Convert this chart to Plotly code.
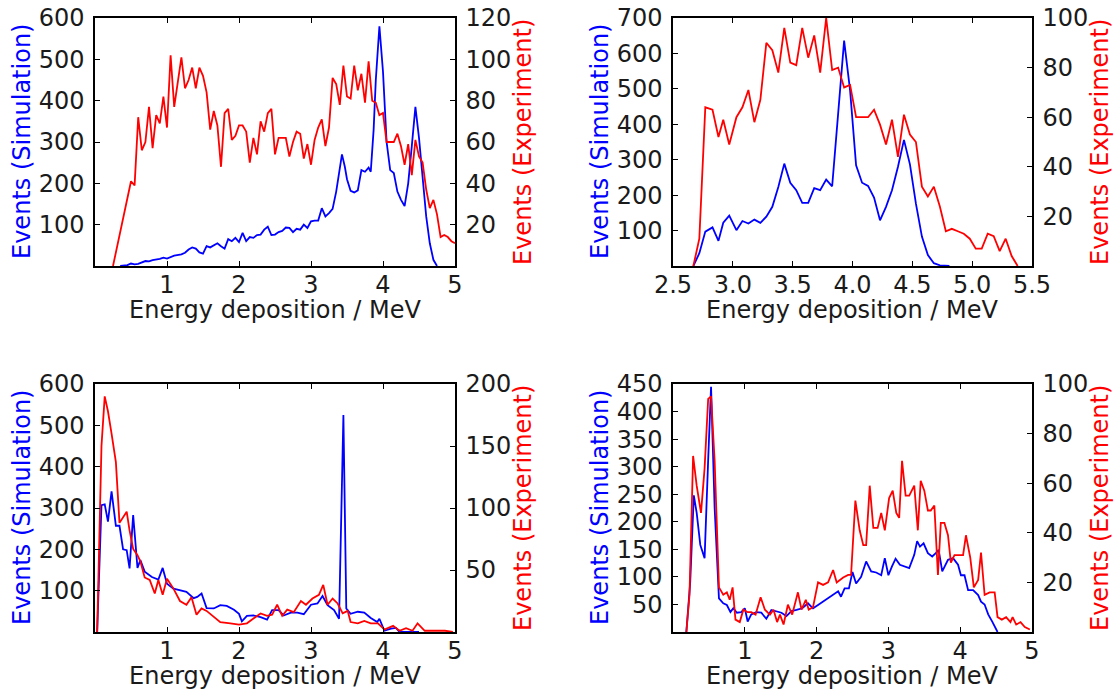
import plotly.graph_objects as go

# ---------------- data ----------------
# Panel 1 (top-left)
p1_sim_e = [0.35,0.45,0.5,0.55,0.6,0.7,0.75,0.8,0.9,0.95,1.0,1.05,1.1,1.2,1.25,1.3,1.35,1.4,1.45,1.5,1.55,1.6,1.65,1.7,1.75,1.8,1.85,1.9,1.95,2.0,2.05,2.1,2.15,2.2,2.25,2.3,2.35,2.4,2.45,2.5,2.55,2.6,2.65,2.7,2.75,2.8,2.85,2.9,2.95,3.0,3.05,3.1,3.15,3.2,3.25,3.3,3.35,3.4,3.43,3.47,3.5,3.55,3.6,3.65,3.7,3.75,3.8,3.83,3.87,3.9,3.95,4.0,4.05,4.1,4.15,4.2,4.25,4.3,4.35,4.4,4.45,4.5,4.55,4.6,4.65,4.7,4.75]
p1_sim_n = [0,2,6,4,5,12,11,14,17,20,18,22,25,28,32,40,45,42,33,30,48,45,50,55,48,42,65,60,68,58,80,60,70,68,75,76,88,95,75,76,82,85,93,92,82,90,88,100,92,108,110,110,140,120,128,138,180,240,270,240,210,182,178,183,232,228,238,228,330,450,580,470,300,232,225,180,160,145,200,290,385,310,220,120,55,15,0]
p1_exp_e = [0.25,0.5,0.55,0.6,0.65,0.7,0.75,0.8,0.85,0.9,0.95,1.0,1.05,1.1,1.15,1.2,1.25,1.3,1.35,1.4,1.45,1.5,1.55,1.6,1.65,1.7,1.75,1.8,1.85,1.9,1.95,2.0,2.05,2.1,2.15,2.2,2.25,2.3,2.35,2.4,2.45,2.5,2.55,2.6,2.65,2.7,2.75,2.8,2.85,2.9,2.95,3.0,3.05,3.1,3.15,3.2,3.25,3.3,3.35,3.4,3.45,3.5,3.55,3.6,3.65,3.7,3.75,3.8,3.85,3.9,3.95,4.0,4.05,4.1,4.15,4.2,4.25,4.3,4.35,4.4,4.45,4.5,4.55,4.6,4.65,4.7,4.75,4.8,4.85,4.9,4.95,5.0]
p1_exp_n = [0,41,39,72,56,60,77,57,73,69,82,67,102,77,89,101,86,90,96,86,96,92,84,66,75,68,48,74,76,61,63,68,68,65,50,62,54,70,65,74,76,54,62,62,62,53,60,65,64,52,59,49,61,67,71,58,67,91,88,78,97,82,81,97,85,93,79,99,80,79,73,74,60,60,60,64,58,49,59,44,61,53,50,37,28,32,25,14,15,14,12,11]

# Panel 2 (top-right)
p2_sim_e = [2.67,2.72,2.77,2.83,2.88,2.92,2.97,3.03,3.08,3.13,3.18,3.23,3.28,3.33,3.38,3.43,3.48,3.53,3.58,3.63,3.68,3.73,3.78,3.83,3.88,3.93,3.98,4.03,4.08,4.13,4.18,4.23,4.28,4.33,4.38,4.43,4.48,4.53,4.58,4.63,4.68,4.73,4.81]
p2_sim_n = [0,36,97,109,71,122,142,101,127,120,131,122,139,167,223,289,235,214,178,178,220,214,244,225,430,636,495,284,235,226,193,129,167,214,280,356,287,176,83,31,8,2,0]
p2_exp_e = [2.67,2.72,2.77,2.83,2.88,2.92,2.97,3.03,3.08,3.13,3.18,3.23,3.28,3.33,3.38,3.43,3.48,3.53,3.58,3.63,3.68,3.73,3.78,3.83,3.88,3.93,3.98,4.03,4.08,4.13,4.18,4.23,4.28,4.33,4.38,4.43,4.48,4.53,4.58,4.63,4.68,4.73,4.78,4.83,4.88,4.93,4.98,5.03,5.08,5.13,5.18,5.23,5.28,5.33,5.38]
p2_exp_n = [0,11,64,63,52,59,49,60,64,71,58,67,90,87,78,96,82,81,96,84,93,78,100,79,80,72,73,60,60,60,63,57,49,59,44,61,53,50,32,28,32,24,14,15,14,13,11,7,7,13,12,6,11,4,0]

# Panel 3 (bottom-left)
p3_sim_e = [0.03,0.09,0.135,0.18,0.23,0.29,0.34,0.39,0.44,0.48,0.53,0.59,0.63,0.69,0.79,0.88,0.94,1.0,1.09,1.18,1.27,1.37,1.42,1.48,1.55,1.65,1.74,1.83,1.93,2.0,2.04,2.11,2.2,2.3,2.39,2.46,2.55,2.62,2.72,2.81,2.9,3.0,3.09,3.16,3.23,3.32,3.39,3.45,3.49,3.55,3.65,3.74,3.83,3.92,3.95,4.02,4.11,4.18,4.23,4.5]
p3_sim_n = [0,307,309,267,340,257,257,200,198,154,283,155,174,146,133,127,155,117,105,101,97,82,85,93,58,57,65,63,54,44,26,39,40,36,30,53,53,40,47,47,43,66,69,87,65,53,32,525,57,44,49,47,34,24,32,3,8,10,0,0]
p3_exp_e = [0.03,0.09,0.135,0.18,0.23,0.29,0.34,0.39,0.44,0.48,0.53,0.59,0.63,0.69,0.76,0.83,0.88,0.94,1.0,1.09,1.18,1.27,1.34,1.41,1.48,1.55,1.65,1.74,1.88,2.0,2.11,2.2,2.3,2.39,2.46,2.53,2.6,2.67,2.76,2.86,2.93,3.02,3.11,3.17,3.23,3.3,3.37,3.44,3.51,3.55,3.65,3.74,3.83,3.93,4.02,4.14,4.23,4.32,4.41,4.48,4.58,4.67,4.76,4.86,4.97]
p3_exp_n = [0,150,190,178,160,137,88,92,97,82,67,62,57,44,42,31,42,30,43,35,25,22,28,14,19,17,12,8,7,6,7,11,15,13,14,22,13,18,16,25,22,27,30,38,22,27,23,15,17,8,7,9,7,7,2,5,1,3,1,7,1,1,1,1,0]

# Panel 4 (bottom-right)
p4_sim_e = [0.186,0.24,0.29,0.33,0.38,0.44,0.49,0.53,0.58,0.64,0.7,0.75,0.8,0.84,0.89,0.95,1.0,1.04,1.09,1.16,1.23,1.3,1.37,1.43,1.51,1.58,1.65,1.72,1.8,1.88,1.95,2.02,2.09,2.16,2.23,2.3,2.34,2.39,2.45,2.5,2.55,2.62,2.69,2.76,2.83,2.9,2.95,3.0,3.05,3.1,3.16,3.24,3.29,3.36,3.4,3.44,3.49,3.55,3.61,3.66,3.7,3.75,3.83,3.9,3.97,4.01,4.06,4.11,4.18,4.25,4.29,4.34,4.39,4.45,4.52]
p4_sim_n = [0,91,248,216,158,134,313,445,225,61,52,49,36,43,35,36,43,19,32,36,35,24,40,38,35,29,38,40,43,52,43,49,55,61,68,74,64,79,79,109,88,100,128,110,108,103,134,103,119,133,122,119,116,140,165,155,161,143,137,143,149,110,131,134,122,103,103,76,76,67,55,50,32,18,0]
p4_exp_e = [0.186,0.23,0.28,0.33,0.39,0.44,0.49,0.53,0.58,0.64,0.7,0.75,0.79,0.83,0.87,0.93,0.98,1.04,1.09,1.15,1.22,1.28,1.35,1.4,1.45,1.49,1.54,1.6,1.66,1.74,1.79,1.85,1.89,1.95,2.02,2.09,2.16,2.23,2.28,2.37,2.44,2.48,2.54,2.6,2.65,2.69,2.74,2.79,2.85,2.9,2.95,3.01,3.06,3.11,3.15,3.19,3.24,3.29,3.36,3.41,3.45,3.5,3.55,3.59,3.64,3.69,3.73,3.78,3.83,3.87,3.92,3.97,4.04,4.08,4.14,4.19,4.25,4.29,4.34,4.41,4.48,4.52,4.58,4.64,4.7,4.73,4.78,4.84,4.9,4.97]
p4_exp_n = [0,15,71,59,48,66,94,95,69,18,15,16,13,18,5,4,9,8,8,7,14,9,7,9,4,7,3,11,7,16,9,13,9,10,20,19,20,25,20,22,23,23,53,41,35,35,59,42,42,48,41,54,57,48,46,69,55,55,59,41,61,57,49,49,51,23,44,44,39,28,31,31,31,39,30,18,21,32,15,16,16,6,5,6,4,6,3,4,2,1]

# axis settings per panel
x_ranges = [[0, 5], [2.5, 5.5], [0, 5], [0, 5]]
x_ticks = [[1, 2, 3, 4, 5], [2.5, 3.0, 3.5, 4.0, 4.5, 5.0, 5.5], [1, 2, 3, 4, 5], [1, 2, 3, 4, 5]]
x_tick_text = [["1", "2", "3", "4", "5"], ["2.5", "3.0", "3.5", "4.0", "4.5", "5.0", "5.5"],
               ["1", "2", "3", "4", "5"], ["1", "2", "3", "4", "5"]]
sim_ranges = [[0, 600], [0, 700], [0, 600], [0, 450]]
sim_ticks = [[100, 200, 300, 400, 500, 600], [100, 200, 300, 400, 500, 600, 700],
             [100, 200, 300, 400, 500, 600], [50, 100, 150, 200, 250, 300, 350, 400, 450]]
exp_ranges = [[0, 120], [0, 100], [0, 200], [0, 100]]
exp_ticks = [[20, 40, 60, 80, 100, 120], [20, 40, 60, 80, 100], [50, 100, 150, 200], [20, 40, 60, 80, 100]]

x_title = "Energy deposition / MeV"
sim_title = "Events (Simulation)"
exp_title = "Events (Experiment)"

# ---------------- figure ----------------
W, H = 1117, 695
col_px = [(95, 455), (673, 1032)]
row_px = [(18, 266), (384, 632)]

panels = [
    (p1_sim_e, p1_sim_n, p1_exp_e, p1_exp_n),
    (p2_sim_e, p2_sim_n, p2_exp_e, p2_exp_n),
    (p3_sim_e, p3_sim_n, p3_exp_e, p3_exp_n),
    (p4_sim_e, p4_sim_n, p4_exp_e, p4_exp_n),
]

FONT = "DejaVu Sans"
FS = 24
BLUE = "#0000ff"
RED = "#ff0000"
TXT = "#1a1a1a"

fig = go.Figure()
layout = dict(
    width=W, height=H,
    margin=dict(l=0, r=0, t=0, b=0),
    paper_bgcolor="white", plot_bgcolor="white",
    showlegend=False, template="none",
    font=dict(family=FONT, size=FS, color=TXT),
    annotations=[],
)

for i, (se, sn, ee, en) in enumerate(panels):
    r, c = divmod(i, 2)
    x0, x1 = col_px[c]
    y0, y1 = row_px[r]
    xd = [x0 / W, x1 / W]
    yd = [1 - y1 / H, 1 - y0 / H]
    xn = "x" if i == 0 else f"x{i+1}"
    ya = 2 * i + 1
    yb = 2 * i + 2
    yan = "y" if ya == 1 else f"y{ya}"
    ybn = f"y{yb}"
    xkey = "xaxis" if i == 0 else f"xaxis{i+1}"
    yakey = "yaxis" if ya == 1 else f"yaxis{ya}"
    ybkey = f"yaxis{yb}"

    fig.add_trace(go.Scatter(x=se, y=sn, mode="lines", line=dict(color=BLUE, width=1.8),
                             xaxis=xn, yaxis=yan, hoverinfo="skip"))
    fig.add_trace(go.Scatter(x=ee, y=en, mode="lines", line=dict(color=RED, width=1.8),
                             xaxis=xn, yaxis=ybn, hoverinfo="skip"))

    layout[xkey] = dict(domain=xd, range=x_ranges[i], anchor=yan, showgrid=False, zeroline=False,
                        showline=True, linecolor="black", linewidth=1.5, mirror="ticks",
                        ticks="inside", ticklen=5, tickwidth=1, tickcolor="black",
                        tickvals=x_ticks[i], ticktext=x_tick_text[i],
                        tickfont=dict(family=FONT, size=FS, color=TXT),
                        ticklabelstandoff=-4, automargin=False, fixedrange=True)
    layout[yakey] = dict(domain=yd, range=sim_ranges[i], anchor=xn, side="left", showgrid=False,
                         zeroline=False, showline=True, linecolor="black", linewidth=1.5,
                         ticks="inside", ticklen=5, tickwidth=1, tickcolor="black",
                         tickvals=sim_ticks[i], ticktext=[str(v) for v in sim_ticks[i]],
                         tickfont=dict(family=FONT, size=FS, color=TXT),
                         ticklabelstandoff=4, automargin=False, fixedrange=True)
    layout[ybkey] = dict(domain=yd, range=exp_ranges[i], anchor=xn, overlaying=yan, side="right",
                         showgrid=False, zeroline=False, showline=True, linecolor="black", linewidth=1.5,
                         ticks="inside", ticklen=5, tickwidth=1, tickcolor="black",
                         tickvals=exp_ticks[i], ticktext=[str(v) for v in exp_ticks[i]],
                         tickfont=dict(family=FONT, size=FS, color=TXT),
                         ticklabelstandoff=4, automargin=False, fixedrange=True)

    cx = (x0 + x1) / 2 / W
    cy = 1 - (y0 + y1) / 2 / H
    xt_y = 1 - (y1 + 44) / H
    layout["annotations"].append(dict(text=x_title, x=cx, y=xt_y, xref="paper", yref="paper",
                                      showarrow=False, xanchor="center", yanchor="middle",
                                      font=dict(family=FONT, size=FS, color=TXT)))
    layout["annotations"].append(dict(text=sim_title, x=(x0 - 73) / W, y=cy, xref="paper", yref="paper",
                                      showarrow=False, textangle=-90, xanchor="center", yanchor="middle",
                                      font=dict(family=FONT, size=FS, color=BLUE)))
    layout["annotations"].append(dict(text=exp_title, x=(x1 + 68) / W, y=cy, xref="paper", yref="paper",
                                      showarrow=False, textangle=-90, xanchor="center", yanchor="middle",
                                      font=dict(family=FONT, size=FS, color=RED)))

fig.update_layout(**layout)
fig.write_html("out.html")
